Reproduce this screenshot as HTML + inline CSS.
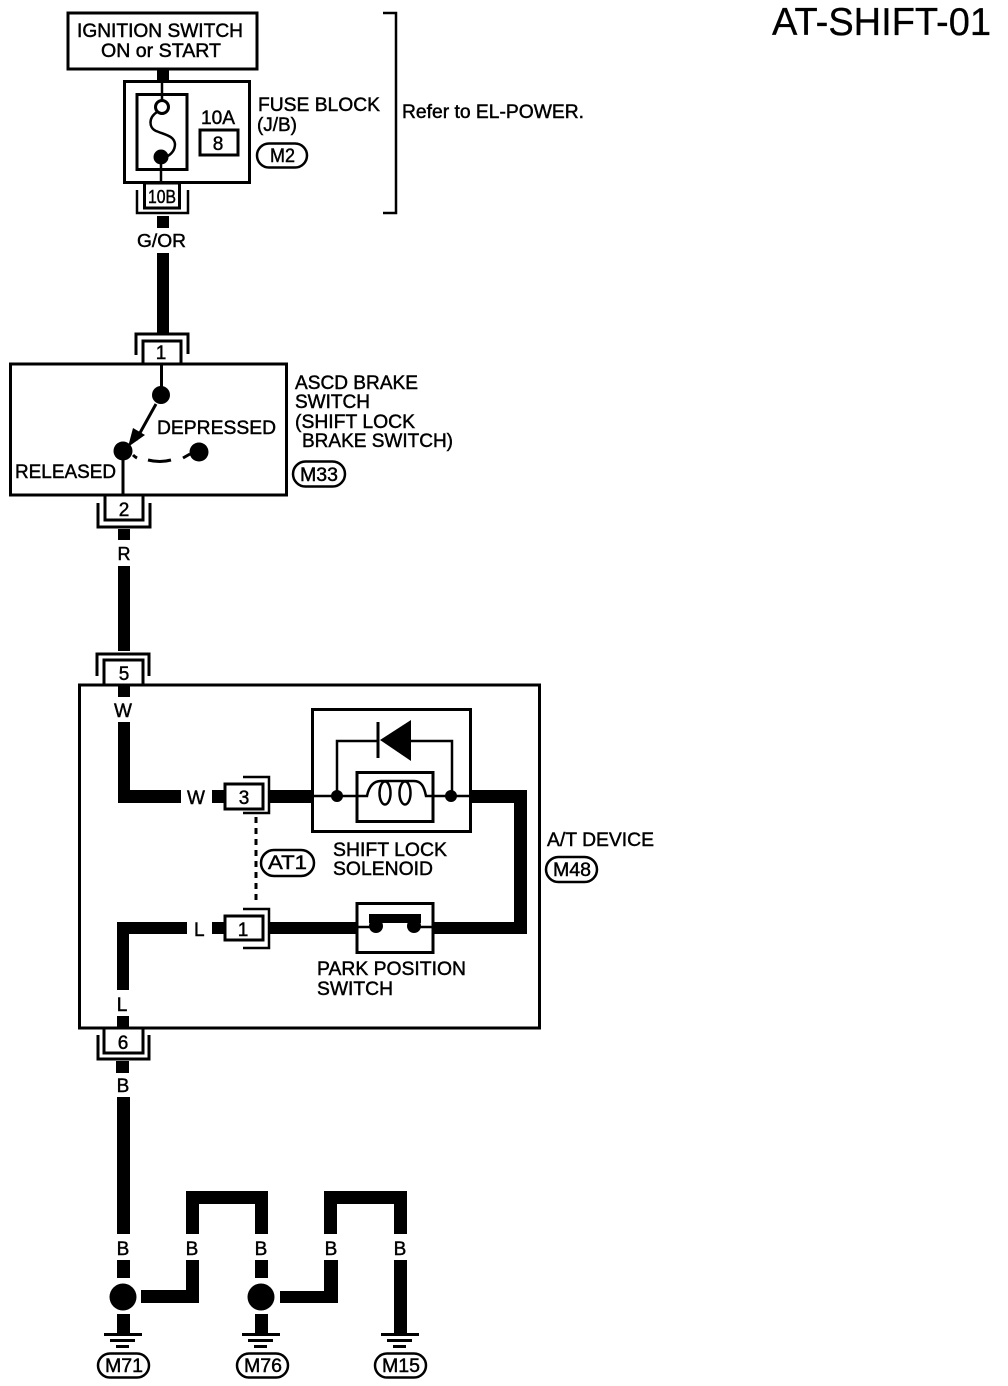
<!DOCTYPE html>
<html><head><meta charset="utf-8"><style>
html,body{margin:0;padding:0;background:#fff}
svg{display:block}
text{font-family:"Liberation Sans",sans-serif;font-size:19px;fill:#000;stroke:#000;stroke-width:.45}
.s{fill:none;stroke:#000;stroke-width:3}
.t{fill:none;stroke:#000;stroke-width:2.5}
rect.w{fill:#000;stroke:none}
.p{fill:#fff;stroke:#000;stroke-width:2.5}
.c{font-size:19px;text-anchor:middle}
</style></head><body>
<svg width="1008" height="1386" viewBox="0 0 1008 1386" xmlns="http://www.w3.org/2000/svg">
<rect width="1008" height="1386" fill="#fff"/>
<text x="772" y="35" style="font-size:39px;stroke-width:.3" textLength="219" lengthAdjust="spacingAndGlyphs">AT-SHIFT-01</text>

<!-- ignition -->
<rect class="s" x="68" y="13" width="189" height="56"/>
<text x="77" y="37" textLength="166" lengthAdjust="spacingAndGlyphs">IGNITION SWITCH</text>
<text x="101" y="57" textLength="120" lengthAdjust="spacingAndGlyphs">ON or START</text>
<rect class="w" x="157" y="69" width="12" height="13"/>

<!-- fuse block -->
<rect class="s" x="124.500" y="81.500" width="125" height="101"/>
<rect class="s" x="137" y="94.500" width="50" height="75"/>
<path class="t" d="M162 82V101"/>
<circle cx="162" cy="107" r="6.500" fill="#fff" stroke="#000" stroke-width="3"/>
<path class="t" d="M157 112C148 118 149 128 156 131C166 135 174 136 175 144C175 151 170 155 166 157"/>
<circle cx="161" cy="157" r="7.500"/>
<path class="t" d="M161 160V183"/>
<text x="201" y="124" textLength="34" lengthAdjust="spacingAndGlyphs">10A</text>
<rect class="s" x="200" y="130" width="38" height="25"/>
<text class="c" x="218" y="150">8</text>
<text x="258" y="111" textLength="122" lengthAdjust="spacingAndGlyphs">FUSE BLOCK</text>
<text x="257" y="131" textLength="40" lengthAdjust="spacingAndGlyphs">(J/B)</text>
<rect class="p" x="257" y="143.500" width="50" height="24" rx="12"/>
<text x="270" y="162" textLength="25" lengthAdjust="spacingAndGlyphs">M2</text>
<!-- 10B -->
<rect class="s" x="144.500" y="183" width="35" height="25"/>
<path class="t" d="M137 190V213H188V190"/>
<text x="148" y="203" style="font-size:18px" textLength="28" lengthAdjust="spacingAndGlyphs">10B</text>
<rect class="w" x="157" y="216" width="12" height="12"/>
<text x="137" y="247" style="font-size:18px" textLength="49" lengthAdjust="spacingAndGlyphs">G/OR</text>
<rect class="w" x="157" y="253" width="12" height="81"/>

<!-- bracket -->
<path class="t" d="M383 13H396V213H383"/>
<text x="402" y="118" textLength="182" lengthAdjust="spacingAndGlyphs">Refer to EL-POWER.</text>

<!-- ASCD -->
<path class="s" d="M136 355V334H188V354"/>
<path class="s" d="M143 364V341H181V364"/>
<text class="c" x="161" y="359">1</text>
<rect class="s" x="10.500" y="364" width="276" height="131"/>
<path class="s" d="M161.500 364V394"/>
<circle cx="161" cy="395" r="9"/>
<path class="s" d="M156 404L136 440"/>
<path d="M128 447L133 428L145 435Z"/>
<circle cx="123" cy="451" r="9.500"/>
<path class="s" d="M123 451V495"/>
<circle cx="199" cy="452" r="9.500"/>
<path class="s" d="M133 455Q135 457 137 458M148 460Q160 463 171 460M183 458L190 454"/>
<text x="157" y="434" textLength="119" lengthAdjust="spacingAndGlyphs">DEPRESSED</text>
<text x="15" y="478" textLength="101" lengthAdjust="spacingAndGlyphs">RELEASED</text>
<text x="295" y="389" textLength="123" lengthAdjust="spacingAndGlyphs">ASCD BRAKE</text>
<text x="295" y="408" textLength="75" lengthAdjust="spacingAndGlyphs">SWITCH</text>
<text x="295" y="428" textLength="120" lengthAdjust="spacingAndGlyphs">(SHIFT LOCK</text>
<text x="302" y="447" textLength="151" lengthAdjust="spacingAndGlyphs">BRAKE SWITCH)</text>
<rect class="p" x="293" y="461.500" width="52" height="25" rx="12.500"/>
<text x="300" y="481" textLength="38" lengthAdjust="spacingAndGlyphs">M33</text>
<!-- conn 2 -->
<path class="s" d="M105 495V520H143V495"/>
<path class="s" d="M98 503V527H150V503"/>
<text class="c" x="124" y="516">2</text>
<rect class="w" x="118" y="529" width="12" height="11"/>
<text class="c" x="124" y="560" style="font-size:18px">R</text>
<rect class="w" x="118" y="566" width="12" height="85"/>

<!-- A/T device -->
<path class="s" d="M97 676V654H149V676"/>
<path class="s" d="M104 684V660H143V684"/>
<text class="c" x="124" y="680">5</text>
<rect class="s" x="79.500" y="685" width="460" height="343"/>
<rect class="w" x="118" y="685" width="12" height="12"/>
<text class="c" x="123" y="717">W</text>
<path d="M118 722H130V790H181V803H118Z"/>
<text x="187" y="804">W</text>
<rect class="w" x="212" y="790" width="12" height="13"/>
<rect class="s" x="225" y="784" width="38" height="25"/>
<text class="c" x="244" y="804">3</text>
<path class="t" d="M243 777H269V813H243"/>
<rect class="w" x="269" y="790" width="43" height="13"/>
<rect class="s" x="312.500" y="709.500" width="158" height="122"/>
<path class="t" d="M312 796H356M433 796H471"/>
<path class="t" d="M337 796V741H378M411 741H452V796"/>
<path class="s" d="M378 722V758"/>
<path d="M380 740L411 720V761Z"/>
<rect class="s" x="357" y="772.500" width="76" height="49"/>
<circle cx="337" cy="796" r="6"/>
<circle cx="451" cy="796" r="6"/>
<path class="t" d="M357 796H367C369 786 374 781 381 781H414C421 781 424 786 426 796H433"/>
<ellipse class="t" cx="385" cy="793" rx="5.500" ry="11.500"/>
<ellipse class="t" cx="405" cy="793" rx="5.500" ry="11.500"/>
<path d="M471 790H527V934H434V922H514V803H471Z"/>
<text x="333" y="856" textLength="114" lengthAdjust="spacingAndGlyphs">SHIFT LOCK</text>
<text x="333" y="875" textLength="100" lengthAdjust="spacingAndGlyphs">SOLENOID</text>

<path d="M256 817V902" class="s" stroke-dasharray="6 5"/>
<rect class="p" x="261" y="850" width="53" height="26" rx="13"/>
<text x="268" y="869" textLength="39" lengthAdjust="spacingAndGlyphs">AT1</text>
<text x="547" y="846" textLength="107" lengthAdjust="spacingAndGlyphs">A/T DEVICE</text>
<rect class="p" x="546" y="857" width="51" height="25" rx="12.500"/>
<text x="553" y="876" textLength="38" lengthAdjust="spacingAndGlyphs">M48</text>

<path d="M117 922H187V934H129V990H117Z"/>
<text x="194" y="936">L</text>
<rect class="w" x="212" y="922" width="12" height="12"/>
<rect class="s" x="225" y="916" width="38" height="24"/>
<text class="c" x="243" y="936">1</text>
<path class="t" d="M243 909H269V948H243"/>
<rect class="w" x="269" y="922" width="88" height="12"/>
<rect class="s" x="357" y="903.500" width="76" height="49"/>
<rect class="w" x="369" y="914" width="52" height="9"/>
<circle cx="376" cy="926" r="7"/>
<circle cx="414" cy="926" r="7"/>
<path class="t" d="M357 927H370M420 927H433"/>
<text x="317" y="975" textLength="149" lengthAdjust="spacingAndGlyphs">PARK POSITION</text>
<text x="317" y="995" textLength="76" lengthAdjust="spacingAndGlyphs">SWITCH</text>
<text class="c" x="122" y="1011">L</text>
<rect class="w" x="117" y="1016" width="12" height="12"/>

<!-- conn 6 -->
<path class="s" d="M104 1028V1053H143V1028"/>
<path class="s" d="M98 1035V1059H149V1035"/>
<text class="c" x="123" y="1049">6</text>
<rect class="w" x="116" y="1061" width="13" height="12"/>
<text class="c" x="123" y="1092">B</text>
<rect class="w" x="117" y="1097" width="13" height="137"/>

<!-- bottom -->
<text class="c" x="123" y="1255">B</text>
<text class="c" x="192" y="1255">B</text>
<text class="c" x="261" y="1255">B</text>
<text class="c" x="331" y="1255">B</text>
<text class="c" x="400" y="1255">B</text>
<rect class="w" x="117" y="1260" width="13" height="18"/>
<circle cx="123" cy="1297" r="13.500"/>
<rect class="w" x="117" y="1314" width="13" height="20"/>
<path d="M141 1290H186V1260H199V1303H141Z"/>
<path d="M186 1234V1191H268V1234H255V1204H199V1234Z"/>
<rect class="w" x="255" y="1260" width="13" height="18"/>
<circle cx="261" cy="1297" r="13.500"/>
<rect class="w" x="255" y="1314" width="13" height="20"/>
<path d="M280 1291H324V1260H338V1303H280Z"/>
<path d="M324 1234V1191H407V1234H394V1204H337V1234Z"/>
<rect class="w" x="394" y="1260" width="13" height="74"/>

<g>
<rect class="w" x="104" y="1333" width="38" height="3"/>
<rect class="w" x="110" y="1339" width="25" height="3"/>
<rect class="w" x="116" y="1345" width="13" height="3"/>
<rect class="w" x="242" y="1333" width="38" height="3"/>
<rect class="w" x="248" y="1339" width="25" height="3"/>
<rect class="w" x="254" y="1345" width="13" height="3"/>
<rect class="w" x="381" y="1333" width="38" height="3"/>
<rect class="w" x="387" y="1339" width="25" height="3"/>
<rect class="w" x="393" y="1345" width="13" height="3"/>
</g>
<rect class="p" x="98" y="1353.500" width="51" height="24" rx="12"/>
<text x="105" y="1372" textLength="38" lengthAdjust="spacingAndGlyphs">M71</text>
<rect class="p" x="237" y="1353.500" width="51" height="24" rx="12"/>
<text x="244" y="1372" textLength="38" lengthAdjust="spacingAndGlyphs">M76</text>
<rect class="p" x="375" y="1353.500" width="51" height="24" rx="12"/>
<text x="382" y="1372" textLength="38" lengthAdjust="spacingAndGlyphs">M15</text>
</svg>
</body></html>
